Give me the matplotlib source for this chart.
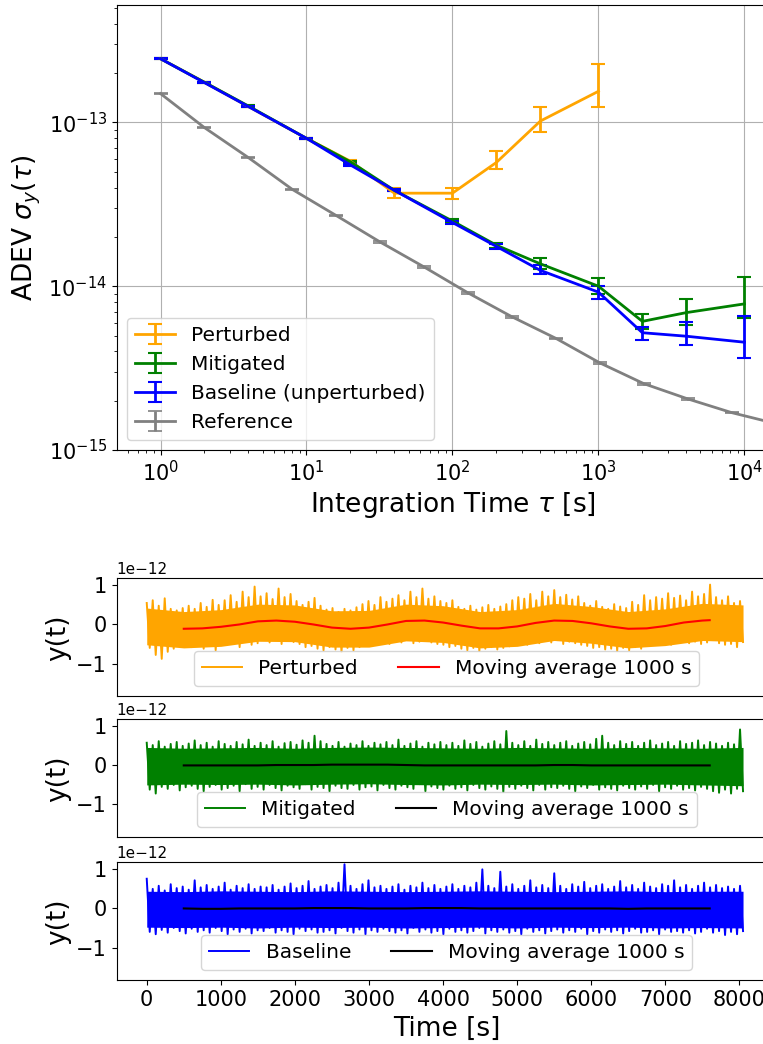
import numpy as np
import matplotlib
matplotlib.use("Agg")
import matplotlib.pyplot as plt

# --- ADEV data ---
tau = [1, 2, 4, 10, 20, 40, 100, 200, 400, 1000, 2000, 4000, 10000]
adev_pert = [2.45e-13, 1.76e-13, 1.25e-13, 8.0e-14, 5.8e-14, 3.7e-14, 3.7e-14, 5.7e-14, 1.02e-13, 1.55e-13]
err_pert_lo = [2e-15, 1.5e-15, 1.2e-15, 8e-16, 8e-16, 2.3e-15, 2.8e-15, 5.0e-15, 1.5e-14, 3.1e-14]
err_pert_hi = [2e-15, 1.5e-15, 1.2e-15, 8e-16, 8e-16, 3.0e-15, 3.0e-15, 1.0e-14, 2.3e-14, 7.2e-14]
adev_mit = [2.45e-13, 1.76e-13, 1.26e-13, 8.0e-14, 5.75e-14, 3.85e-14, 2.5e-14, 1.78e-14,
            1.37e-14, 1.0e-14, 6.1e-15, 6.9e-15, 7.8e-15]
err_mit_lo = [2e-15, 1.5e-15, 1.2e-15, 8e-16, 8e-16, 6e-16, 6e-16, 6e-16, 9e-16, 1.0e-15, 6.5e-16, 1.1e-15, 1.4e-15]
err_mit_hi = [2e-15, 1.5e-15, 1.2e-15, 8e-16, 8e-16, 6e-16, 6e-16, 6e-16, 1.1e-15, 1.3e-15, 7e-16, 1.4e-15, 3.6e-15]
adev_base = [2.45e-13, 1.75e-13, 1.25e-13, 8.0e-14, 5.5e-14, 3.85e-14, 2.45e-14, 1.75e-14,
             1.25e-14, 9.2e-15, 5.2e-15, 4.95e-15, 4.55e-15]
err_base_lo = [2e-15, 1.5e-15, 1.2e-15, 8e-16, 8e-16, 6e-16, 6e-16, 6e-16, 6e-16, 8e-16, 5e-16, 5.5e-16, 9e-16]
err_base_hi = [2e-15, 1.5e-15, 1.2e-15, 8e-16, 8e-16, 6e-16, 6e-16, 6e-16, 1.0e-15, 9e-16, 4e-16, 1.1e-15, 2.0e-15]
tau_ref = [1, 2, 4, 8, 16, 32, 64, 128, 256, 512, 1024, 2048, 4096, 8192, 16384]
adev_ref = [1.5e-13, 9.3e-14, 6.1e-14, 3.9e-14, 2.7e-14, 1.86e-14, 1.31e-14, 9.1e-15,
            6.5e-15, 4.8e-15, 3.4e-15, 2.54e-15, 2.05e-15, 1.69e-15, 1.45e-15]
err_ref = [1.5e-15, 9e-16, 6e-16, 4e-16, 3e-16, 2e-16, 1.3e-16, 9e-17,
           7e-17, 5e-17, 4e-17, 3e-17, 2e-17, 2e-17, 2e-17]

# --- time series, read as alternating peaks / troughs (units of 1e-12) ---
pert_hi = [0.55, 0.62, 0.48, 0.67, 0.40, 0.36, 0.42, 0.48, 0.40, 0.55, 0.45, 0.63, 0.50,
           0.62, 0.75, 0.58, 0.84, 0.70, 0.97, 0.72, 0.80, 0.65, 0.92, 0.70, 0.78,
           0.60, 0.50, 0.58, 0.68, 0.48, 0.38, 0.42, 0.32, 0.40, 0.36, 0.44,
           0.52, 0.60, 0.50, 0.70, 0.58, 0.66, 0.75, 0.62, 0.84, 0.70, 0.92, 0.66, 0.72,
           0.60, 0.55, 0.62, 0.45, 0.40, 0.48, 0.38, 0.44, 0.50, 0.40, 0.46, 0.52,
           0.62, 0.70, 0.66, 0.78, 0.62, 0.84, 0.72, 0.88, 0.70, 0.76, 0.64, 0.72,
           0.55, 0.48, 0.60, 0.45, 0.40, 0.52, 0.46, 0.42, 0.58, 0.50, 0.75,
           0.62, 0.70, 0.66, 0.80, 0.68, 0.74, 0.62, 0.84, 0.72, 0.78, 1.02, 0.70,
           0.62, 0.72, 0.55, 0.60]
pert_lo = [-0.60, -0.78, -0.88, -0.70, -0.62, -0.55, -0.50, -0.58, -0.48, -0.62, -0.55, -0.66, -0.52,
           -0.50, -0.46, -0.58, -0.44, -0.52, -0.48, -0.40, -0.46, -0.38, -0.50, -0.42, -0.45,
           -0.50, -0.58, -0.55, -0.62, -0.66, -0.58, -0.64, -0.70, -0.60, -0.66, -0.58, -0.55,
           -0.48, -0.52, -0.44, -0.50, -0.42, -0.46, -0.40, -0.48, -0.44, -0.38, -0.46, -0.50,
           -0.52, -0.58, -0.55, -0.62, -0.66, -0.60, -0.68, -0.62, -0.58, -0.64, -0.60, -0.56,
           -0.50, -0.46, -0.52, -0.44, -0.48, -0.42, -0.46, -0.40, -0.50, -0.44, -0.48, -0.52,
           -0.55, -0.60, -0.58, -0.64, -0.62, -0.68, -0.60, -0.66, -0.58, -0.62, -0.55, -0.50,
           -0.48, -0.44, -0.52, -0.46, -0.42, -0.48, -0.44, -0.50, -0.46, -0.40, -0.48, -0.52,
           -0.50, -0.58, -0.45]
mit_hi = [0.58, 0.52, 0.62, 0.48, 0.55, 0.60, 0.50, 0.56, 0.64, 0.52,
          0.58, 0.48, 0.62, 0.55, 0.50, 0.60, 0.54, 0.66, 0.50, 0.58,
          0.52, 0.62, 0.48, 0.57, 0.60, 0.53, 0.64, 0.58, 0.76, 0.62,
          0.55, 0.50, 0.60, 0.48, 0.56, 0.52, 0.62, 0.50, 0.58, 0.54,
          0.60, 0.52, 0.66, 0.50, 0.56, 0.62, 0.48, 0.58, 0.54, 0.60,
          0.52, 0.58, 0.50, 0.64, 0.55, 0.60, 0.48, 0.56, 0.62, 0.54,
          0.88, 0.58, 0.52, 0.62, 0.50, 0.66, 0.55, 0.60, 0.52, 0.58,
          0.62, 0.50, 0.56, 0.60, 0.54, 0.68, 0.76, 0.58, 0.52, 0.62,
          0.55, 0.60, 0.50, 0.58, 0.64, 0.52, 0.56, 0.60, 0.50, 0.62,
          0.55, 0.58, 0.64, 0.52, 0.60, 0.56, 0.50, 0.58, 0.54, 0.92]
mit_lo = [-0.62, -0.72, -0.55, -0.60, -0.50, -0.64, -0.56, -0.52, -0.60, -0.66,
          -0.55, -0.50, -0.62, -0.58, -0.52, -0.66, -0.48, -0.60, -0.55, -0.62,
          -0.50, -0.58, -0.64, -0.52, -0.56, -0.60, -0.48, -0.62, -0.55, -0.58,
          -0.66, -0.52, -0.58, -0.60, -0.50, -0.62, -0.56, -0.54, -0.64, -0.50,
          -0.58, -0.62, -0.52, -0.56, -0.60, -0.48, -0.66, -0.54, -0.58, -0.62,
          -0.52, -0.60, -0.56, -0.64, -0.50, -0.58, -0.62, -0.54, -0.60, -0.68,
          -0.55, -0.60, -0.52, -0.58, -0.64, -0.50, -0.62, -0.56, -0.58, -0.52,
          -0.60, -0.66, -0.54, -0.58, -0.50, -0.62, -0.56, -0.60, -0.64, -0.52,
          -0.58, -0.62, -0.54, -0.60, -0.50, -0.66, -0.56, -0.60, -0.52, -0.62,
          -0.58, -0.64, -0.55, -0.60, -0.66, -0.70, -0.62, -0.72, -0.60, -0.66]
base_hi = [0.76, 0.50, 0.58, 0.46, 0.62, 0.52, 0.56, 0.48, 0.72, 0.54,
           0.60, 0.50, 0.56, 0.66, 0.48, 0.58, 0.52, 0.62, 0.50, 0.56,
           0.54, 0.60, 0.48, 0.56, 0.64, 0.52, 0.58, 0.70, 0.50, 0.56,
           0.60, 0.52, 0.66, 1.13, 0.58, 0.50, 0.62, 0.72, 0.54, 0.58,
           0.50, 0.56, 0.62, 0.48, 0.58, 0.54, 0.66, 0.52, 0.60, 0.50,
           0.56, 0.62, 0.50, 0.58, 0.54, 0.66, 1.00, 0.58, 0.52, 0.94,
           0.56, 0.62, 0.50, 0.58, 0.72, 0.54, 0.60, 0.52, 0.90, 0.58,
           0.50, 0.62, 0.56, 0.68, 0.52, 0.58, 0.62, 0.50, 0.56, 0.70,
           0.54, 0.60, 0.50, 0.66, 0.56, 0.52, 0.62, 0.58, 0.72, 0.54,
           0.60, 0.50, 0.58, 0.66, 0.54, 0.60, 0.52, 0.56, 0.50, 0.58]
base_lo = [-0.60, -0.66, -0.55, -0.62, -0.50, -0.58, -0.64, -0.52, -0.60, -0.56,
           -0.62, -0.50, -0.58, -0.66, -0.54, -0.60, -0.52, -0.64, -0.56, -0.58,
           -0.50, -0.62, -0.56, -0.60, -0.66, -0.52, -0.58, -0.54, -0.62, -0.60,
           -0.56, -0.64, -0.50, -0.58, -0.62, -0.54, -0.66, -0.56, -0.60, -0.52,
           -0.58, -0.62, -0.56, -0.64, -0.50, -0.60, -0.54, -0.62, -0.58, -0.66,
           -0.52, -0.60, -0.56, -0.62, -0.58, -0.50, -0.64, -0.56, -0.60, -0.54,
           -0.62, -0.58, -0.66, -0.52, -0.60, -0.56, -0.64, -0.58, -0.54, -0.62,
           -0.56, -0.60, -0.52, -0.66, -0.58, -0.62, -0.54, -0.60, -0.56, -0.64,
           -0.58, -0.52, -0.62, -0.60, -0.56, -0.66, -0.54, -0.60, -0.58, -0.62,
           -0.56, -0.64, -0.60, -0.52, -0.62, -0.58, -0.68, -0.60, -0.66, -0.58]

# solid core of each band (where the trace is dense), read every 500 s
t_core = [0, 500, 1000, 1500, 2000, 2500, 3000, 3500, 4000, 4500, 5000, 5500, 6000,
          6500, 7000, 7500, 8050]
pert_core_hi = [0.42, 0.33, 0.38, 0.52, 0.50, 0.35, 0.36, 0.52, 0.48, 0.33, 0.38, 0.54, 0.46,
                0.33, 0.40, 0.54, 0.50]
pert_core_lo = [-0.52, -0.60, -0.56, -0.43, -0.44, -0.58, -0.58, -0.42, -0.46, -0.60, -0.56, -0.41, -0.48,
                -0.60, -0.54, -0.41, -0.44]
mit_core_hi = [0.46, 0.44, 0.45, 0.46, 0.44, 0.46, 0.47, 0.46, 0.45, 0.44, 0.46, 0.45, 0.44,
               0.46, 0.45, 0.44, 0.46]
mit_core_lo = [-0.50, -0.48, -0.49, -0.48, -0.50, -0.48, -0.47, -0.49, -0.50, -0.48, -0.49, -0.48, -0.50,
               -0.49, -0.48, -0.50, -0.52]
base_core_hi = [0.44, 0.43, 0.45, 0.44, 0.43, 0.45, 0.44, 0.43, 0.44, 0.45, 0.44, 0.43, 0.44,
                0.45, 0.43, 0.44, 0.44]
base_core_lo = [-0.48, -0.49, -0.48, -0.50, -0.48, -0.49, -0.48, -0.50, -0.49, -0.48, -0.50, -0.48, -0.49,
                -0.48, -0.50, -0.49, -0.50]

t_ma = [500, 750, 1000, 1250, 1500, 1750, 2000, 2250, 2500, 2750, 3000, 3250, 3500, 3750,
        4000, 4250, 4500, 4750, 5000, 5250, 5500, 5750, 6000, 6250, 6500, 6750, 7000, 7250, 7500, 7600]
ma_pert = [-0.11, -0.10, -0.06, 0.0, 0.08, 0.10, 0.07, 0.0, -0.08, -0.11, -0.08, 0.0, 0.09, 0.10,
           0.05, -0.03, -0.10, -0.10, -0.05, 0.04, 0.10, 0.09, 0.03, -0.05, -0.11, -0.10, -0.04, 0.05, 0.10, 0.11]
ma_mit = [0.0, 0.0, 0.0, 0.0, 0.0, 0.01, 0.01, 0.01, 0.02, 0.02, 0.02, 0.02, 0.01, 0.0, 0.0,
          0.0, 0.0, 0.0, 0.0, 0.0, 0.01, 0.01, 0.0, 0.0, 0.0, 0.0, 0.0, 0.0, 0.0, 0.0]
ma_base = [0.0, -0.01, -0.01, 0.0, 0.0, 0.0, 0.0, 0.01, 0.01, 0.01, 0.0, 0.0, 0.0, 0.01,
           0.01, 0.01, 0.0, 0.0, 0.0, 0.0, 0.0, 0.0, 0.0, 0.0, -0.01, 0.0, 0.0, 0.0, 0.0, 0.0]


def zigzag(hi, lo):
    y = np.empty(len(hi) + len(lo))
    y[0::2] = hi
    y[1::2] = lo
    return y * 1e-12


fig = plt.figure(figsize=(7.63, 10.44), dpi=100)

ax = fig.add_axes([0.153, 0.569, 0.88, 0.426])
n = len(adev_pert)
ax.errorbar(tau[:n], adev_pert, yerr=[err_pert_lo, err_pert_hi], color="orange", lw=2,
            capsize=5, capthick=1.5, label="Perturbed")
ax.errorbar(tau, adev_mit, yerr=[err_mit_lo, err_mit_hi], color="green", lw=2,
            capsize=5, capthick=1.5, label="Mitigated")
ax.errorbar(tau, adev_base, yerr=[err_base_lo, err_base_hi], color="blue", lw=2,
            capsize=5, capthick=1.5, label="Baseline (unperturbed)")
ax.errorbar(tau_ref, adev_ref, yerr=err_ref, color="gray", lw=2,
            capsize=5, capthick=1.2, label="Reference")
ax.set_xscale("log")
ax.set_yscale("log")
ax.set_xlim(10 ** -0.3, 10 ** 4.3)
ax.set_ylim(1e-15, 5.2e-13)
ax.grid(True, which="major")
ax.tick_params(labelsize=15)
ax.set_xlabel(r"Integration Time $\tau$ [s]", fontsize=19)
ax.set_ylabel(r"ADEV $\sigma_y(\tau)$", fontsize=19)
ax.legend(loc="lower left", fontsize=14.5)

panels = [
    (0.333, pert_hi, pert_lo, pert_core_hi, pert_core_lo, "orange", "Perturbed", ma_pert, "red"),
    (0.198, mit_hi, mit_lo, mit_core_hi, mit_core_lo, "green", "Mitigated", ma_mit, "black"),
    (0.061, base_hi, base_lo, base_core_hi, base_core_lo, "blue", "Baseline", ma_base, "black"),
]
for i, (bot, hi, lo, chi, clo, col, lab, ma, macol) in enumerate(panels):
    a = fig.add_axes([0.153, bot, 0.865, 0.113])
    y = zigzag(hi, lo)
    t = np.linspace(0, 8050, len(y))
    a.fill_between(t_core, np.array(clo) * 1e-12, np.array(chi) * 1e-12, color=col, lw=0)
    a.plot(t, y, color=col, lw=1.4, label=lab)
    a.plot(t_ma, np.array(ma) * 1e-12, color=macol, lw=1.5, label="Moving average 1000 s")
    a.set_xlim(-405, 8505)
    a.set_ylim(-1.84e-12, 1.18e-12)
    a.set_yticks([-1e-12, 0, 1e-12])
    a.tick_params(labelsize=15)
    a.yaxis.get_offset_text().set_fontsize(11)
    a.set_ylabel("y(t)", fontsize=19)
    a.legend(loc="lower center", ncol=2, fontsize=14.5)
    if i < 2:
        a.tick_params(bottom=False, labelbottom=False)
    else:
        a.set_xticks(range(0, 8001, 1000))
        a.set_xlabel("Time [s]", fontsize=19)

fig.savefig("out.png", dpi=100)
